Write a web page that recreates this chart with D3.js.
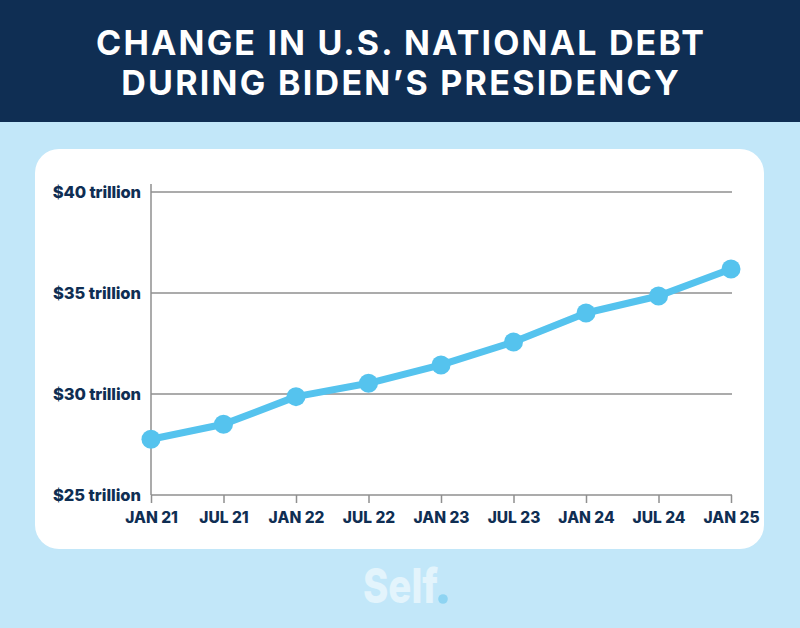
<!DOCTYPE html>
<html>
<head>
<meta charset="utf-8">
<script src="https://cdn.jsdelivr.net/npm/d3@7"></script>
<style>
html,body{margin:0;padding:0;background:#c2e7f9;}
svg{display:block;}
</style>
</head>
<body>
<svg id="chart" width="800" height="628"></svg>
<script>
const titleLines = ["CHANGE IN U.S. NATIONAL DEBT", "DURING BIDEN\u2019S PRESIDENCY"];
const categories = ["JAN 21","JUL 21","JAN 22","JUL 22","JAN 23","JUL 23","JAN 24","JUL 24","JAN 25"];
const debtTrillions = [27.76, 28.50, 29.87, 30.53, 31.44, 32.57, 34.01, 34.85, 36.19];
const yTicks = [25, 30, 35, 40];
const yTickLabels = ["$25 trillion","$30 trillion","$35 trillion","$40 trillion"];
const logoText = "Self";

const navy = "#0f2e53";
const svg = d3.select("#chart");
const W = 800, H = 628;

svg.append("rect").attr("width", W).attr("height", H).attr("fill", "#c2e7f9");
svg.append("rect").attr("width", W).attr("height", 122).attr("fill", navy);

const font = "Inter, 'Open Sans', sans-serif";

function fitWidth(sel, target) {
  const len = sel.node().getComputedTextLength();
  const n = sel.text().length;
  const ls = (target - len) / n;
  sel.attr("letter-spacing", ls);
  if (sel.attr("text-anchor") === "middle") sel.attr("dx", ls / 2);
}

// Title
const titleTargets = [610, 560];
titleLines.forEach((t, i) => {
  const tx = svg.append("text")
    .attr("x", W/2).attr("y", [55, 95][i])
    .attr("text-anchor", "middle")
    .attr("fill", "#ffffff")
    .attr("font-family", font)
    .attr("font-weight", 700)
    .attr("font-size", 34)
    .text(t);
  fitWidth(tx, titleTargets[i]);
});

// Card
svg.append("rect")
  .attr("x", 35).attr("y", 149).attr("width", 729).attr("height", 400)
  .attr("rx", 24).attr("ry", 24)
  .attr("fill", "#ffffff");

const x = d3.scalePoint().domain(categories).range([151, 731]);
const y = d3.scaleLinear().domain([25, 40]).range([495, 192]);

const gridColor = "#8f8f8f";

// gridlines
const grid = svg.append("g");
grid.selectAll("line").data(yTicks.filter(d => d !== 25)).join("line")
  .attr("x1", 151).attr("x2", 732)
  .attr("y1", d => y(d)).attr("y2", d => y(d))
  .attr("stroke", gridColor).attr("stroke-width", 1.5);

// y axis
const yAxis = d3.axisLeft(y).tickValues(yTicks)
  .tickFormat((d, i) => yTickLabels[i]).tickSize(0).tickPadding(10);
const gy = svg.append("g").attr("transform", "translate(151,0)").call(yAxis);
gy.select(".domain").remove();
gy.append("line").attr("x1", 0).attr("x2", 0).attr("y1", 184).attr("y2", 495)
  .attr("stroke", gridColor).attr("stroke-width", 1.5);
gy.selectAll(".tick text")
  .attr("fill", navy).attr("font-family", font).attr("font-weight", 800)
  .attr("font-size", 16.5).attr("dy", "0.35em")
  .each(function() {
    const s = d3.select(this);
    const len = this.getComputedTextLength();
    const ls = (88 - len) / s.text().length;
    s.attr("letter-spacing", ls).attr("dx", ls);
  });

// x axis
const xAxis = d3.axisBottom(x).tickSize(8).tickPadding(9).tickSizeOuter(0);
const gx = svg.append("g").attr("transform", "translate(0,495)").call(xAxis);
gx.select(".domain").attr("stroke", gridColor).attr("stroke-width", 1.5)
  .attr("d", "M151,0H732");
gx.selectAll(".tick line").attr("stroke", gridColor).attr("stroke-width", 1.5);
gx.selectAll(".tick text")
  .attr("fill", navy).attr("font-family", font).attr("font-weight", 800)
  .attr("font-size", 15.5);

// line
const lineColor = "#55c3ee";
const line = d3.line().x((d, i) => x(categories[i])).y(d => y(d));
svg.append("path").datum(debtTrillions)
  .attr("d", line).attr("fill", "none")
  .attr("stroke", lineColor).attr("stroke-width", 7)
  .attr("stroke-linejoin", "round");
svg.append("g").selectAll("circle").data(debtTrillions).join("circle")
  .attr("cx", (d, i) => x(categories[i])).attr("cy", d => y(d))
  .attr("r", 9.5).attr("fill", lineColor);

// logo
svg.append("text")
  .attr("x", 363).attr("y", 603)
  .attr("fill", "#e3f4fc")
  .attr("font-family", font).attr("font-weight", 800)
  .attr("font-size", 48)
  .attr("textLength", 75).attr("lengthAdjust", "spacingAndGlyphs")
  .text(logoText);
svg.append("circle").attr("cx", 443).attr("cy", 599).attr("r", 4.8).attr("fill", "#8ed4f2");
</script>
</body>
</html>
